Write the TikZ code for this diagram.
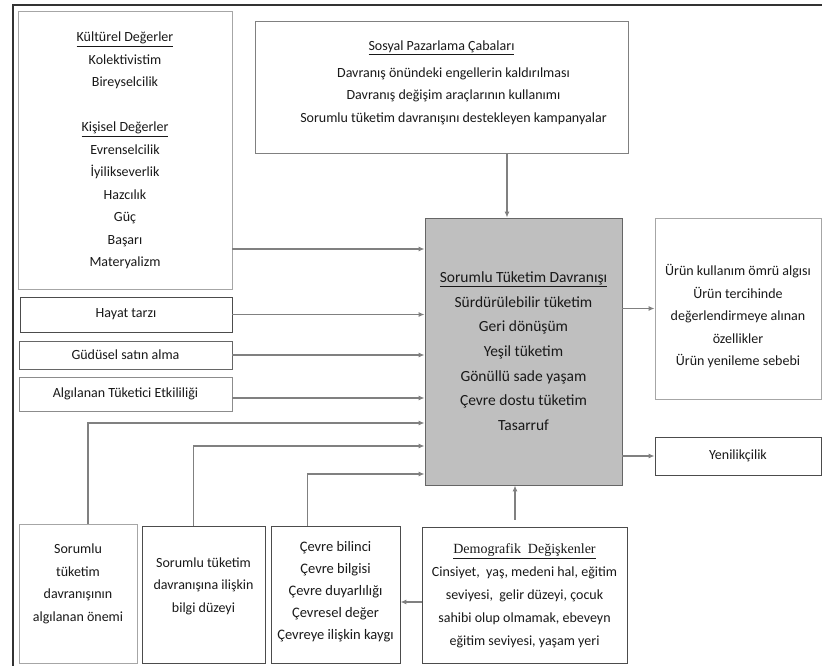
\documentclass[tikz,border=0pt]{standalone}
\usepackage{fontspec}
\setmainfont{Carlito}
\newfontfamily\titlefont{Liberation Serif}
\usetikzlibrary{arrows.meta,positioning}
\newcommand{\boxtext}[2][0pt]{\raisebox{#1}[\height][\depth]{\begin{tabular}{@{}c@{}}#2\end{tabular}}}

\begin{document}
\begin{tikzpicture}[x=1pt, y=-1pt,
  box/.style={draw=black!35, line width=0.9pt, fill=white, inner sep=0pt, text=black!90, font=\fontsize{14}{22.5}\selectfont},
  darkbox/.style={box, draw=black!70},
  core/.style={box, draw=black!60, fill=black!25, font=\fontsize{15.5}{24.7}\selectfont},
  arr/.style={-{Latex[length=6pt,width=5pt]}, draw=black!50, line width=1.1pt},
  frame/.style={draw=black!80, line width=2pt}
]
\useasboundingbox (0,0) rectangle (822,666);
\draw[frame] (13,690) |- (840,5);

\node[box, minimum width=214pt, minimum height=278pt] (kultur) at (125,150) {\boxtext{\underline{Kültürel Değerler}\\Kolektivistim\\Bireyselcilik\\[22.5pt]\underline{Kişisel Değerler}\\Evrenselcilik\\İyilikseverlik\\Hazcılık\\Güç\\Başarı\\Materyalizm}};
\node[box, draw=black!50, minimum width=373pt, minimum height=132pt] (sosyal) at (441.5,87) {\boxtext[5pt]{\underline{Sosyal Pazarlama Çabaları}\\[4pt]\hspace*{24pt}Davranış önündeki engellerin kaldırılması\\\hspace*{24pt}Davranış değişim araçlarının kullanımı\\\hspace*{24pt}Sorumlu tüketim davranışını destekleyen kampanyalar}};
\node[core, minimum width=197pt, minimum height=267pt] (central) at (523.5,351.5) {\boxtext{\underline{Sorumlu Tüketim Davranışı}\\Sürdürülebilir tüketim\\Geri dönüşüm\\Yeşil tüketim\\Gönüllü sade yaşam\\Çevre dostu tüketim\\Tasarruf}};
\node[box, minimum width=166pt, minimum height=181pt] (urun) at (738,308.5) {\boxtext[-7.5pt]{Ürün kullanım ömrü algısı\\Ürün tercihinde\\değerlendirmeye alınan\\özellikler\\Ürün yenileme sebebi}};
\node[darkbox, minimum width=166pt, minimum height=38pt] (yeni) at (738,456) {Yenilikçilik};

\node[darkbox, minimum width=212pt, minimum height=35pt] (hayat) at (126,314.5) {Hayat tarzı};
\node[darkbox, draw=black!60, minimum width=213pt, minimum height=28pt] (gudu) at (125.5,355) {Güdüsel satın alma};
\node[box, draw=black!45, minimum width=213pt, minimum height=34pt] (algi) at (125.5,394) {Algılanan Tüketici Etkililiği};

\node[box, minimum width=118pt, minimum height=139pt] (onem) at (78,593.5) {\boxtext[10.5pt]{Sorumlu\\tüketim\\davranışının\\algılanan önemi}};
\node[darkbox, minimum width=123pt, minimum height=137pt] (bilgi) at (203.5,594.5) {\boxtext[9.5pt]{Sorumlu tüketim\\davranışına ilişkin\\bilgi düzeyi}};
\node[darkbox, minimum width=129pt, minimum height=137pt, font=\fontsize{14.5}{22}\selectfont] (cevre) at (335.5,594.5) {\boxtext[3.5pt]{Çevre bilinci\\Çevre bilgisi\\Çevre duyarlılığı\\Çevresel değer\\Çevreye ilişkin kaygı}};
\node[darkbox, minimum width=205pt, minimum height=136pt, font=\fontsize{14}{23}\selectfont] (demo) at (524.5,595) {\boxtext{{\titlefont\underline{Demografik\ \ Değişkenler}}\\Cinsiyet,\ \ yaş, medeni hal, eğitim\\seviyesi,\ \ gelir düzeyi, çocuk\\sahibi olup olmamak, ebeveyn\\eğitim seviyesi, yaşam yeri}};

\draw[arr] ([xshift=65.5pt]sosyal.south) coordinate (s1) -- (s1 |- central.north);
\draw[arr] ([yshift=-99pt]kultur.east) coordinate (k1) -- (k1 -| central.west);
\draw[arr] (hayat.east) -- (hayat.east -| central.west);
\draw[arr] (gudu.east) -- (gudu.east -| central.west);
\draw[arr] ([yshift=-4pt]algi.east) coordinate (a1) -- (a1 -| central.west);
\draw[arr] ([xshift=10pt]onem.north) |- ([yshift=-71.5pt]central.west);
\draw[arr] ([xshift=-10pt]bilgi.north) |- ([yshift=-94.5pt]central.west);
\draw[arr] ([xshift=-28pt]cevre.north) |- ([yshift=-122.5pt]central.west);
\draw[arr, shorten <=7pt] ([xshift=-9.5pt]demo.north) coordinate (d1) -- (d1 |- central.south);
\draw[arr] ([yshift=-7pt]demo.west) coordinate (d2) -- (d2 -| cevre.east);
\draw[arr] (central.east |- urun.west) -- (urun.west);
\draw[arr] (central.east |- yeni.west) -- (yeni.west);
\end{tikzpicture}
\end{document}
